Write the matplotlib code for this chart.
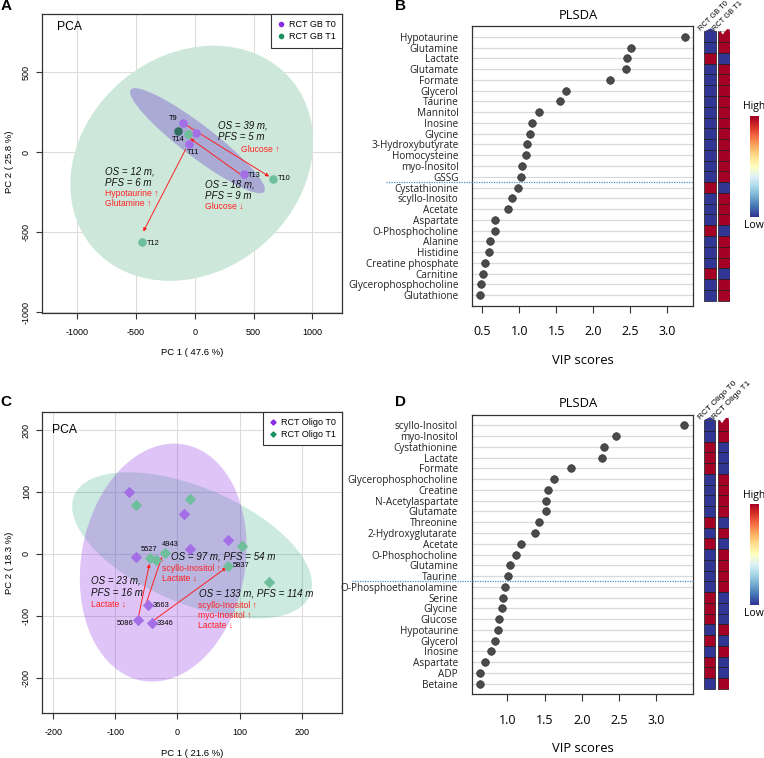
import numpy as np
import matplotlib.pyplot as plt
from matplotlib.patches import Ellipse, Rectangle, Polygon
from matplotlib.transforms import ScaledTranslation
from matplotlib.lines import Line2D

W, H = 764, 758
SANS = ['Liberation Sans', 'DejaVu Sans']
OPEN = ['Open Sans', 'DejaVu Sans']

# ---------------- A : PCA, RCT GB
gb_t0_x = [-103, 8, -52, 416]
gb_t0_y = [181, 119, 50, -137]
gb_t1_x = [-61, 663, -452]
gb_t1_y = [112, -165, -562]
gb_mix_x = [-140]          # dark overlapping point
gb_mix_y = [135]
gb_names = ['T9', 'T14', 'T11', 'T13', 'T10', 'T12']
gb_name_x = [-103, -140, -52, 416, 663, -452]
gb_name_y = [181, 135, 50, -137, -165, -562]
gb_arrow_from = [(-98, 181), (385, -136), (-77, 19)]
gb_arrow_to = [(634, -152), (-41, 87), (-438, -496)]
gb_note_text = ['OS = 39 m,', 'PFS = 5 m', 'Glucose ↑',
                'OS = 12 m,', 'PFS = 6 m', 'Hypotaurine ↑', 'Glutamine ↑',
                'OS = 18 m,', 'PFS = 9 m', 'Glucose ↓']
gb_note_x = [200, 200, 390, -762, -762, -762, -762, 87, 87, 87]
gb_note_y = [164, 97, 16, -121, -190, -256, -321, -200, -271, -340]

# ---------------- C : PCA, RCT Oligo
ol_t0_x = [-78, 10, 20, 81, -67, -48, -63, -41]
ol_t0_y = [100, 65, 8, 23, -5, -82, -106, -111]
ol_t1_x = [-67, 20, 104, 148, 82, -44, -34, -20]
ol_t1_y = [79, 88, 12, -46, -19, -7, -10, 2]
ol_names = ['5527', '4943', '5837', '3663', '5086', '3346']
ol_name_x = [-44, -20, 82, -48, -63, -41]
ol_name_y = [-7, 2, -19, -82, -106, -111]
ol_arrow_from = [(-63, -103), (-50, -79), (-39, -108)]
ol_arrow_to = [(-45, -16), (-25, -5), (79, -22)]
ol_note_text = ['OS = 97 m, PFS = 54 m', 'scyllo-Inositol ↑', 'Lactate ↓',
                'OS = 23 m,', 'PFS = 16 m', 'Lactate ↓',
                'OS = 133 m, PFS = 114 m', 'scyllo-Inositol ↑', 'myo-Inositol ↑', 'Lactate ↓']
ol_note_x = [-10.5, -24, -24, -139, -139, -139, 34, 33, 33, 33]
ol_note_y = [-4.7, -23, -39, -43.5, -63, -81, -64, -83, -99, -114.5]

# ---------------- B : PLSDA, RCT GB
b_names = ['Hypotaurine', 'Glutamine', 'Lactate', 'Glutamate', 'Formate', 'Glycerol',
           'Taurine', 'Mannitol', 'Inosine', 'Glycine', '3-Hydroxybutyrate', 'Homocysteine',
           'myo-Inositol', 'GSSG', 'Cystathionine', 'scyllo-Inosito', 'Acetate', 'Aspartate',
           'O-Phosphocholine', 'Alanine', 'Histidine', 'Creatine phosphate', 'Carnitine',
           'Glycerophosphocholine', 'Glutathione']
b_vip = [3.235, 2.51, 2.46, 2.44, 2.226, 1.635, 1.554, 1.26, 1.176, 1.149, 1.104, 1.086,
         1.041, 1.023, 0.987, 0.897, 0.847, 0.672, 0.668, 0.60, 0.59, 0.536, 0.505, 0.478, 0.473]
b_t0 = [0, 0, 1, 0, 0, 0, 0, 0, 0, 0, 0, 0, 0, 0, 1, 0, 0, 0, 1, 0, 0, 0, 1, 0, 0]
b_t1 = [1, 1, 0, 1, 1, 1, 1, 1, 1, 1, 1, 1, 1, 1, 0, 1, 1, 1, 0, 1, 1, 1, 0, 1, 1]
b_groups = ['RCT GB T0', 'RCT GB T1']

# ---------------- D : PLSDA, RCT Oligo
d_names = ['scyllo-Inositol', 'myo-Inositol', 'Cystathionine', 'Lactate', 'Formate',
           'Glycerophosphocholine', 'Creatine', 'N-Acetylaspartate', 'Glutamate', 'Threonine',
           '2-Hydroxyglutarate', 'Acetate', 'O-Phosphocholine', 'Glutamine', 'Taurine',
           'O-Phosphoethanolamine', 'Serine', 'Glycine', 'Glucose', 'Hypotaurine', 'Glycerol',
           'Inosine', 'Aspartate', 'ADP', 'Betaine']
d_vip = [3.376, 2.455, 2.298, 2.275, 1.855, 1.627, 1.55, 1.52, 1.515, 1.42, 1.376, 1.188,
         1.112, 1.04, 1.013, 0.965, 0.946, 0.933, 0.889, 0.88, 0.83, 0.785, 0.705, 0.637, 0.63]
d_t0 = [0, 0, 1, 1, 1, 0, 0, 0, 0, 1, 0, 1, 0, 0, 0, 0, 1, 1, 1, 0, 1, 0, 1, 1, 0]
d_t1 = [1, 1, 0, 0, 0, 1, 1, 1, 1, 0, 1, 0, 1, 1, 1, 1, 0, 0, 0, 1, 0, 1, 0, 0, 1]
d_groups = ['RCT Oligo T0', 'RCT Oligo T1']

PURPLE = '#8a2be2'
GREEN = '#009966'
cmap = plt.get_cmap('RdYlBu_r')

fig = plt.figure(figsize=(W / 100, H / 100), dpi=100)


def box(l, t, r, b):
    return [l / W, 1 - b / H, (r - l) / W, (b - t) / H]


def ftext(x, y, s, **kw):
    fig.text(x / W, 1 - y / H, s, **kw)


def add_ell(ax, cx, cy, w, h, ang, **kw):
    tr = fig.dpi_scale_trans + ScaledTranslation(cx, cy, ax.transData)
    ax.add_patch(Ellipse((0, 0), w / 100, h / 100, angle=ang, transform=tr, **kw))


def pca_panel(rect, xlim, ylim, xt, yt):
    ax = fig.add_axes(rect)
    ax.set_xlim(*xlim)
    ax.set_ylim(*ylim)
    ax.set_xticks(xt)
    ax.set_yticks(yt)
    ax.set_xticklabels([str(v) for v in xt], family=SANS, fontsize=6.5)
    ax.set_yticklabels([str(v) for v in yt], family=SANS, fontsize=6.5,
                       rotation=90, va='center')
    ax.tick_params(axis='x', length=4, width=0.8, pad=7, color='#333333')
    ax.tick_params(axis='y', length=4, width=0.8, pad=4, color='#333333')
    ax.grid(color='#dcdcdc', lw=0.8)
    ax.set_axisbelow(True)
    for s in ax.spines.values():
        s.set_color('#333333')
        s.set_linewidth(0.9)
    return ax


def notes(ax, xs, ys, texts):
    for x, y, t in zip(xs, ys, texts):
        if t.startswith('OS') or t.startswith('PFS'):
            ax.text(x, y, t, family=SANS, style='italic', fontsize=7, va='center', color='#111111')
        else:
            ax.text(x, y, t, family=SANS, fontsize=6.2, va='center', color='#ff2020')


def arrows(ax, starts, ends):
    for s, e in zip(starts, ends):
        ax.annotate('', xy=e, xytext=s,
                    arrowprops=dict(arrowstyle='-|>', color='#ff2020', lw=0.7,
                                    mutation_scale=5, shrinkA=0, shrinkB=0))


# ===== Panel A
axA = pca_panel(box(42, 14, 342, 312.7), (-1300, 1253), (-1003, 864),
                [-1000, -500, 0, 500, 1000], [-1000, -500, 0, 500])
add_ell(axA, -26, -69, 260, 216, 40, color='#cde8db', lw=0, zorder=1)
add_ell(axA, 23, 72, 168, 32, -37.4, color='#a9abd5', lw=0, zorder=2)
axA.scatter(gb_t0_x, gb_t0_y, s=38, color='#a46fe6', lw=0, zorder=4)
axA.scatter(gb_t1_x, gb_t1_y, s=38, color='#6fbf9c', lw=0, zorder=4)
axA.scatter(gb_mix_x, gb_mix_y, s=38, color='#2e6e60', lw=0, zorder=4)
gb_off = [(-5, 5, 'right'), (0, -9, 'center'), (-2, -8, 'left'),
          (4, -1, 'left'), (5, 0, 'left'), (5, -1, 'left')]
for n, x, y, (dx, dy, ha) in zip(gb_names, gb_name_x, gb_name_y, gb_off):
    axA.annotate(n, (x, y), xytext=(dx, dy), textcoords='offset pixels', ha=ha,
                 va='center', fontsize=5.3, family=SANS, zorder=6)
arrows(axA, gb_arrow_from, gb_arrow_to)
notes(axA, gb_note_x, gb_note_y, gb_note_text)
axA.text(0.05, 0.955, 'PCA', transform=axA.transAxes, family=SANS, fontsize=8.7, va='center')
hA = [Line2D([], [], ls='', marker='o', ms=3, color=PURPLE),
      Line2D([], [], ls='', marker='o', ms=3, color='#1a8f5f')]
lg = axA.legend(hA, ['RCT GB T0', 'RCT GB T1'], loc='upper right', borderaxespad=0,
                fancybox=False, edgecolor='#333333', framealpha=1, prop={'family': SANS, 'size': 6.5},
                handlelength=0.8, handletextpad=0.5, borderpad=0.7, labelspacing=0.35)
lg.get_frame().set_linewidth(0.8)
ftext(191.7, 352.7, 'PC 1 ( 47.6 %)', family=SANS, fontsize=6.8, ha='center', va='center')
ftext(10, 162, 'PC 2 ( 25.8 %)', family=SANS, fontsize=6.8, ha='center', va='center', rotation=90)
ftext(0.5, 6, 'A', family=SANS, fontsize=11, weight='bold', va='center')

# ===== Panel C
axC = pca_panel(box(42, 411.7, 342, 712.7), (-218, 265), (-256.5, 229.6),
                [-200, -100, 0, 100, 200], [-200, -100, 0, 100, 200])
add_ell(axC, 23.7, 13.7, 256, 116, -23, color=GREEN, alpha=0.2, lw=0, zorder=1)
add_ell(axC, -22.9, -14.1, 240, 164, 80, color=PURPLE, alpha=0.27, lw=0, zorder=2)
axC.scatter(ol_t0_x, ol_t0_y, s=34, marker='D', color='#a46fe6', lw=0, zorder=4)
axC.scatter(ol_t1_x, ol_t1_y, s=34, marker='D', color='#6fbf9c', lw=0, zorder=4)
ol_off = [(-1, 9, 'center'), (5, 8.5, 'center'), (4.5, 0, 'left'),
          (5, -1, 'left'), (-5, -4, 'right'), (5, -1, 'left')]
for n, x, y, (dx, dy, ha) in zip(ol_names, ol_name_x, ol_name_y, ol_off):
    axC.annotate(n, (x, y), xytext=(dx, dy), textcoords='offset pixels', ha=ha,
                 va='center', fontsize=5.4, family=SANS, zorder=6)
arrows(axC, ol_arrow_from, ol_arrow_to)
notes(axC, ol_note_x, ol_note_y, ol_note_text)
axC.text(0.033, 0.94, 'PCA', transform=axC.transAxes, family=SANS, fontsize=8.7, va='center')
hC = [Line2D([], [], ls='', marker='D', ms=2.6, color=PURPLE),
      Line2D([], [], ls='', marker='D', ms=2.6, color='#1a8f5f')]
lg = axC.legend(hC, ['RCT Oligo T0', 'RCT Oligo T1'], loc='upper right', borderaxespad=0,
                fancybox=False, edgecolor='#333333', framealpha=1, prop={'family': SANS, 'size': 6.5},
                handlelength=0.8, handletextpad=0.5, borderpad=0.7, labelspacing=0.35)
lg.get_frame().set_linewidth(0.8)
ftext(191.7, 753.3, 'PC 1 ( 21.6 %)', family=SANS, fontsize=6.8, ha='center', va='center')
ftext(10, 563, 'PC 2 ( 18.3 %)', family=SANS, fontsize=6.8, ha='center', va='center', rotation=90)
ftext(0.5, 401.7, 'C', family=SANS, fontsize=11, weight='bold', va='center')


# ===== PLSDA panels
def plsda_panel(rect, hm_l, hm_r, cb_top, cb_bot, names, vip, t0, t1, groups,
                xlim, xt, cut, cut_left, title_y, label_y, letter, letter_y, grp_fs):
    n = len(names)
    rows = np.arange(1, n + 1)
    ax = fig.add_axes(rect)
    ax.set_xlim(*xlim)
    ax.set_ylim(n + 1, 0)
    for r in rows:
        ax.axhline(r, color='#d9d9d9', lw=0.9, zorder=1)
    ax.scatter(vip, rows, s=30, color='#4a4a4a', edgecolor='#333333', lw=0.5, zorder=3)
    ax.plot([cut_left, 1], [cut, cut], transform=ax.get_yaxis_transform(), clip_on=False,
            color='#4a90c8', lw=0.9, ls=(0, (1, 1)), zorder=4)
    ax.set_yticks(rows)
    ax.set_yticklabels(names, family=OPEN, fontsize=7.2, color='#222222')
    ax.tick_params(axis='y', length=0, pad=10)
    ax.set_xticks(xt)
    ax.set_xticklabels(['%.1f' % v for v in xt], family=OPEN, fontsize=9)
    ax.tick_params(axis='x', length=5, width=0.8, pad=9, color='#333333')
    for s in ax.spines.values():
        s.set_color('#333333')
        s.set_linewidth(0.9)
    ftext(578, title_y, 'PLSDA', family=OPEN, fontsize=9.4, ha='center', va='center')
    ftext(582.7, label_y, 'VIP scores', family=OPEN, fontsize=9.4, ha='center', va='center')
    ftext(395, letter_y, letter, family=SANS, fontsize=11, weight='bold', va='center')

    # heat strip
    hm = fig.add_axes([hm_l / W, rect[1], (hm_r - hm_l) / W, rect[3]])
    hm.set_xlim(0, hm_r - hm_l)
    hm.set_ylim(n + 1, 0)
    hm.axis('off')
    cw = (hm_r - hm_l - 2.6) / 2
    for j, col in enumerate([t0, t1]):
        x0 = j * (cw + 2.6)
        for r, v in zip(rows, col):
            hm.add_patch(Rectangle((x0, r - 0.5), cw, 1, facecolor=cmap(float(v)),
                                   edgecolor='#1a1a1a', lw=0.5))
        top_col = cmap(float(col[0]))
        if j == 0:
            hm.add_patch(Polygon([(x0, 0.5), (x0 + cw * 0.55, 0.22), (x0 + cw, 0.5)],
                                 facecolor=top_col, edgecolor='none', clip_on=False))
        else:
            hm.add_patch(Polygon([(x0, 0.5), (x0 + cw * 0.1, 0.35), (x0 + cw * 0.4, 0.8),
                                  (x0 + cw * 0.75, 0.3), (x0 + cw, 0.3), (x0 + cw, 0.5)],
                                 facecolor='white', edgecolor='none', clip_on=False))
            hm.add_patch(Polygon([(x0 + cw * 0.4, 0.8), (x0 + cw * 0.75, 0.3),
                                  (x0 + cw, 0.3), (x0 + cw, 0.8)],
                                 facecolor=top_col, edgecolor='none', clip_on=False))
        hm.text(x0 - 1.5, 0.55, groups[j], rotation=45, rotation_mode='anchor',
                ha='left', va='bottom', fontsize=grp_fs, family=SANS)

    # colour key
    cax = fig.add_axes(box(750, cb_top, 758.3, cb_bot))
    cax.imshow(np.linspace(1, 0, 100)[:, None], aspect='auto', cmap=cmap)
    cax.axis('off')
    ftext(754.2, cb_top - 8.7, 'High', family=OPEN, fontsize=7.5, ha='center', va='center')
    ftext(754.2, cb_bot + 8.5, 'Low', family=OPEN, fontsize=7.5, ha='center', va='center')
    return ax


plsda_panel(box(472.3, 26, 693.3, 306), 704.3, 729.7, 115.7, 216.7,
            b_names, b_vip, b_t0, b_t1, b_groups, (0.365, 3.35),
            [0.5, 1.0, 1.5, 2.0, 2.5, 3.0], 14.5, -0.39, 15.7, 360, 'B', 6, 5.4)
plsda_panel(box(471.7, 414.7, 692.7, 694.3), 704, 728.7, 504, 605.3,
            d_names, d_vip, d_t0, d_t1, d_groups, (0.522, 3.489),
            [1.0, 1.5, 2.0, 2.5, 3.0], 15.5, -0.543, 403.3, 748, 'D', 402, 6)

fig.savefig('out.png', dpi=100)
